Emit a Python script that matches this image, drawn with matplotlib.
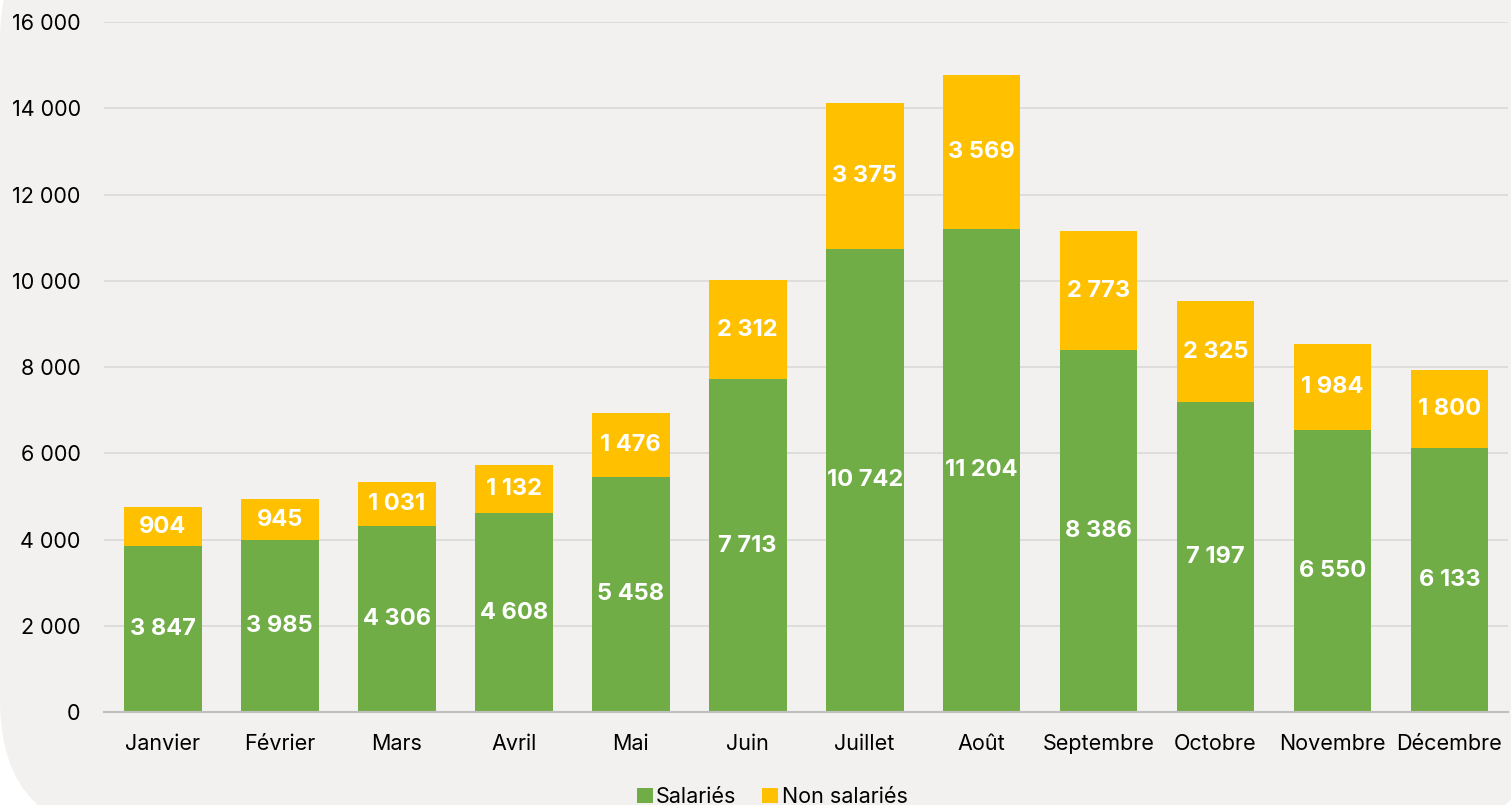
import matplotlib.pyplot as plt
from matplotlib.patches import FancyBboxPatch
import numpy as np

mois = ["Janvier", "Février", "Mars", "Avril", "Mai", "Juin", "Juillet",
        "Août", "Septembre", "Octobre", "Novembre", "Décembre"]
salaries = [3847, 3985, 4306, 4608, 5458, 7713, 10742, 11204, 8386, 7197, 6550, 6133]
non_salaries = [904, 945, 1031, 1132, 1476, 2312, 3375, 3569, 2773, 2325, 1984, 1800]
yticks = [0, 2000, 4000, 6000, 8000, 10000, 12000, 14000, 16000]

plt.rcParams["font.family"] = ["Inter", "DejaVu Sans"]

bg = "#F2F1EF"
fig = plt.figure(figsize=(15.11, 8.05), dpi=100, facecolor="white")

# fond arrondi (coordonnées en pixels)
fond = FancyBboxPatch((0, -30), 1543, 930, boxstyle="round,pad=0,rounding_size=135",
                      transform=None, facecolor=bg, edgecolor="none", zorder=0)
fig.add_artist(fond)

ax = fig.add_axes([0.069, 0.1155, 0.929, 0.857])
ax.set_facecolor("none")

x = np.arange(len(mois))
b1 = ax.bar(x, salaries, width=0.665, color="#70AD47", label="Salariés", zorder=3)
b2 = ax.bar(x, non_salaries, width=0.665, bottom=salaries, color="#FFC000",
            label="Non salariés", zorder=3)

def fmt(v):
    return f"{v:,}".replace(",", " ")

for bars in (b1, b2):
    ax.bar_label(bars, labels=[fmt(v) for v in bars.datavalues], label_type="center",
                 color="white", fontsize=17, fontweight="bold")

ax.set_xlim(-0.5, len(mois) - 0.5)
ax.set_ylim(0, 16000)
ax.set_yticks(yticks)
ax.set_yticklabels([fmt(v) for v in yticks], fontsize=15.5)
ax.set_xticks(x)
ax.set_xticklabels(mois, fontsize=15.5)
ax.tick_params(length=0)
ax.tick_params(axis="x", pad=16)
ax.tick_params(axis="y", pad=17)
ax.yaxis.grid(True, color="#D9D9D9", linewidth=1.2, zorder=0)
for s in ["top", "right", "left"]:
    ax.spines[s].set_visible(False)
ax.spines["bottom"].set_color("#BFBFBF")
ax.spines["bottom"].set_linewidth(1.5)
ax.spines["bottom"].set_zorder(4)

fig.legend(handles=[b1, b2], loc="center", bbox_to_anchor=(772 / 1511, 8 / 805),
           ncol=2, frameon=False, fontsize=15.5, handlelength=0.75, handleheight=0.75,
           handletextpad=0.15, columnspacing=1.2)

fig.savefig("out.png", dpi=100, facecolor="white")
